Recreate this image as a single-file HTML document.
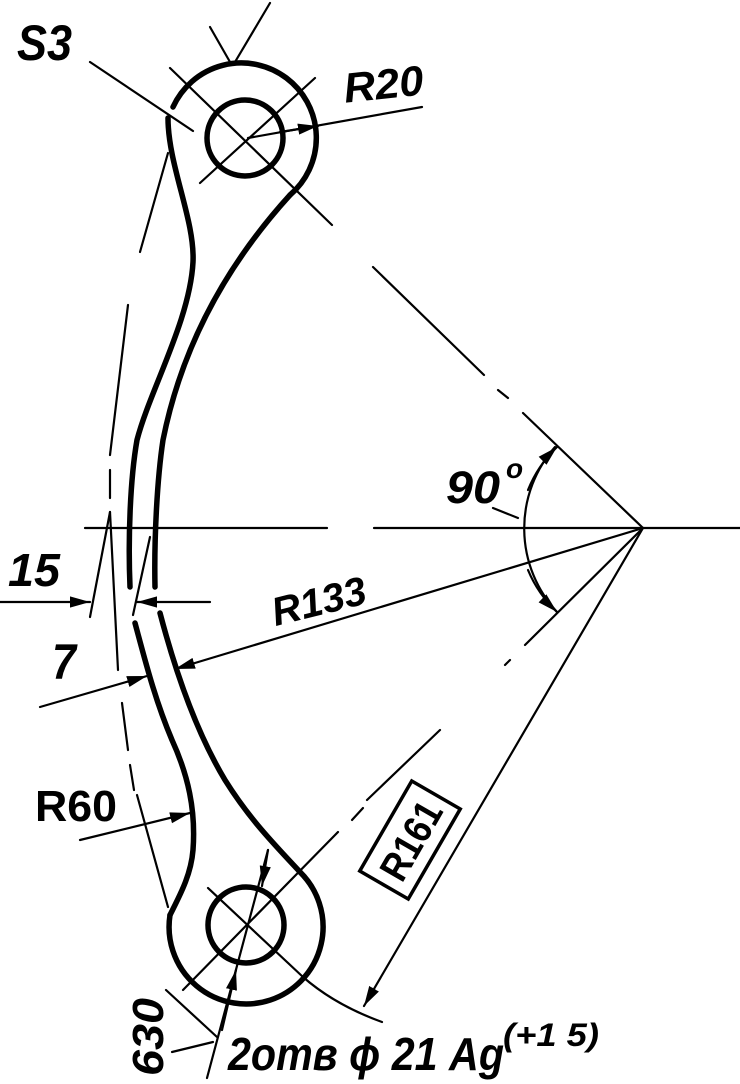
<!DOCTYPE html>
<html><head><meta charset="utf-8"><style>
html,body{margin:0;padding:0;background:#fff;}
svg{display:block}
text{font-family:"Liberation Sans",sans-serif;font-style:italic;font-weight:bold;fill:#000}
</style></head><body>
<svg width="740" height="1084" viewBox="0 0 740 1084" xmlns="http://www.w3.org/2000/svg">
<defs>
<marker id="a" viewBox="0 0 10 10" refX="10" refY="5" markerWidth="20" markerHeight="20" markerUnits="userSpaceOnUse" orient="auto"><path d="M0,2.2 L10,5 L0,7.8 Z" fill="#000"/></marker>
</defs>
<g fill="none" stroke="#000" stroke-linecap="round">
<g stroke-width="5.5">
<path d="M173,107 A75,75 0 1 1 290,195"/>
<path d="M168,118 C168,165 195,220 193,262 C190,320 150,390 137,440 C130,480 128,540 130,587"/>
<path d="M290,195 C240,250 185,330 163,440 C157,480 154,540 155,587"/>
<path d="M135,623 C145,660 155,700 172,740 C188,775 196,810 193,850 C191,875 180,895 170,915"/>
<path d="M160,613 C175,670 195,730 225,780 C250,820 275,845 300,872"/>
<path d="M170,915 A77,77 0 1 0 300,872"/>
<circle cx="245" cy="138" r="38"/>
<circle cx="246" cy="925" r="38"/>
</g>
<g stroke-width="2.2">
<line x1="85" y1="528" x2="327" y2="528"/>
<line x1="374" y1="528" x2="740" y2="528"/>
<line x1="170" y1="68" x2="332" y2="225"/>
<line x1="315" y1="78" x2="200" y2="183"/>
<line x1="210" y1="27" x2="230" y2="62"/>
<line x1="270" y1="3" x2="235" y2="62"/>
<line x1="90" y1="62" x2="193" y2="131"/>
<line x1="422" y1="107" x2="248" y2="138"/>
<line x1="280" y1="132" x2="318" y2="126" marker-end="url(#a)"/>
<line x1="373" y1="267" x2="484" y2="375"/>
<line x1="498" y1="390" x2="508" y2="398"/>
<line x1="523" y1="413" x2="643" y2="528"/>
<line x1="643" y1="528" x2="525" y2="645"/>
<line x1="510" y1="660" x2="505" y2="665"/>
<line x1="440" y1="730" x2="367" y2="800"/>
<line x1="363" y1="808" x2="352" y2="820"/>
<line x1="338" y1="832" x2="183" y2="990"/>
<line x1="208" y1="888" x2="303" y2="977"/>
<path d="M303,977 Q335,1005 382,1022"/>
<line x1="643" y1="528" x2="175" y2="669" marker-end="url(#a)"/>
<line x1="643" y1="528" x2="364" y2="1006" marker-end="url(#a)"/>
<path d="M555,447 A123,123 0 0 0 557,612" />
<path d="M528,490 A123,123 0 0 1 557,447" marker-end="url(#a)"/>
<path d="M528,570 A123,123 0 0 0 557,612" marker-end="url(#a)"/>
<line x1="493" y1="508" x2="518" y2="518"/>
<line x1="168" y1="153" x2="140" y2="252"/>
<line x1="128" y1="305" x2="110" y2="455"/>
<line x1="110" y1="470" x2="110" y2="498"/>
<line x1="110" y1="512" x2="118" y2="670"/>
<line x1="122" y1="703" x2="128" y2="750"/>
<line x1="130" y1="765" x2="134" y2="790"/>
<line x1="137" y1="795" x2="168" y2="907"/>
<line x1="90" y1="617" x2="110" y2="512"/>
<line x1="133" y1="615" x2="150" y2="537"/>
<line x1="0" y1="602" x2="90" y2="602" marker-end="url(#a)"/>
<line x1="210" y1="602" x2="137" y2="602" marker-end="url(#a)"/>
<line x1="40" y1="707" x2="147" y2="676" marker-end="url(#a)"/>
<line x1="80" y1="840" x2="190" y2="813" marker-end="url(#a)"/>
<line x1="268" y1="850" x2="207" y2="1078"/>
<line x1="268" y1="850" x2="262" y2="886" marker-end="url(#a)"/>
<line x1="222" y1="1030" x2="236" y2="970" marker-end="url(#a)"/>
<line x1="166" y1="990" x2="217" y2="1037"/>
<line x1="172" y1="1052" x2="213" y2="1042"/>
</g>
</g>
<g transform="translate(410,840) rotate(-60)">
<rect x="-52" y="-28" width="104" height="56" fill="none" stroke="#000" stroke-width="3.5"/>
<text x="0" y="15" font-size="40" text-anchor="middle" textLength="84" lengthAdjust="spacingAndGlyphs" style="font-style:normal">R161</text>
</g>
<text x="17" y="60" font-size="50" textLength="55" lengthAdjust="spacingAndGlyphs">S3</text>
<text x="343" y="99" font-size="42" textLength="80" lengthAdjust="spacingAndGlyphs" transform="rotate(-6 380 80)">R20</text>
<text x="446" y="503" font-size="45" textLength="54" lengthAdjust="spacingAndGlyphs">90</text>
<text x="506" y="478" font-size="28">o</text>
<text x="8" y="586" font-size="46" textLength="52" lengthAdjust="spacingAndGlyphs">15</text>
<text x="52" y="679" font-size="50" textLength="24" lengthAdjust="spacingAndGlyphs">7</text>
<text x="270" y="615" font-size="40" textLength="96" lengthAdjust="spacingAndGlyphs" transform="rotate(-14 318 598)">R133</text>
<text x="35" y="821" font-size="44" textLength="82" lengthAdjust="spacingAndGlyphs" style="font-style:normal">R60</text>
<text x="0" y="0" font-size="44" textLength="78" lengthAdjust="spacingAndGlyphs" transform="translate(163,1076) rotate(-90)">630</text>
<text x="228" y="1070" font-size="46" textLength="276" lengthAdjust="spacingAndGlyphs">2отв ϕ 21 Аg</text>
<text x="503" y="1046" font-size="32" textLength="96" lengthAdjust="spacingAndGlyphs">(+1 5)</text>
</svg>
</body></html>
